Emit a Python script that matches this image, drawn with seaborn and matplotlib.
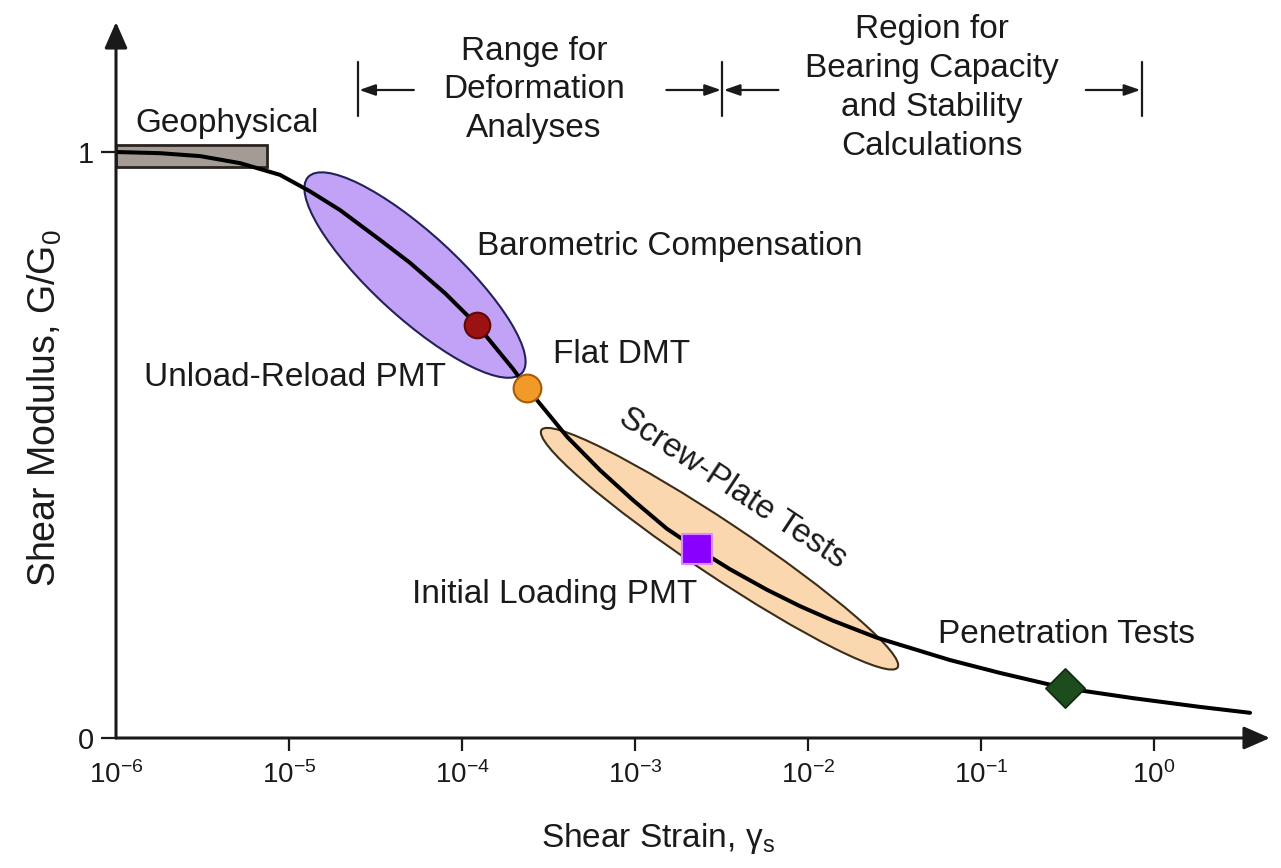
import matplotlib
matplotlib.use("Agg")
import matplotlib.pyplot as plt
import matplotlib.transforms as mtransforms
from matplotlib.patches import Ellipse, Rectangle
from matplotlib.ticker import NullLocator
import pandas as pd
import seaborn as sns

# ---- data -------------------------------------------------------------
# modulus reduction curve: G/G0 against shear strain
strain = [1.0e-6, 1.79e-6, 3.06e-6, 5.21e-6, 8.87e-6, 1.32e-5, 1.97e-5,
          3.36e-5, 5.0e-5, 7.98e-5, 1.22e-4, 1.97e-4, 2.38e-4, 4.05e-4,
          6.28e-4, 9.73e-4, 1.53e-3, 2.28e-3, 3.54e-3, 5.79e-3, 8.99e-3,
          1.40e-2, 2.51e-2, 6.62e-2, 0.129, 0.306, 0.757, 1.85, 3.59]
modulus_ratio = [1.000, 0.998, 0.993, 0.981, 0.961, 0.933, 0.901,
                 0.850, 0.811, 0.759, 0.705, 0.630, 0.597, 0.514,
                 0.457, 0.406, 0.357, 0.323, 0.288, 0.253, 0.225,
                 0.200, 0.171, 0.133, 0.111, 0.085, 0.068, 0.053, 0.043]

# in-situ tests placed on the curve
test_names = ["Unload-Reload PMT", "Flat DMT", "Initial Loading PMT", "Penetration Tests"]
test_strain = [1.22e-4, 2.38e-4, 2.28e-3, 0.306]
test_ratio = [0.705, 0.597, 0.323, 0.085]

# strain zones for the test families (centre strain, centre G/G0)
zone_names = ["Barometric Compensation", "Screw-Plate Tests"]
zone_strain = [5.35e-5, 3.08e-3]
zone_ratio = [0.790, 0.323]

# geophysical band
geo_strain = [1.0e-6, 7.5e-6]
geo_ratio = [0.974, 1.012]

# range brackets along the top
bracket_strain = [2.5e-5, 3.2e-3, 0.85]
range_labels = ["Range for\nDeformation\nAnalyses",
                "Region for\nBearing Capacity\nand Stability\nCalculations"]

# axis ticks
xtick_exponents = [-6, -5, -4, -3, -2, -1, 0]
ytick_values = [0, 1]

# ---- style ------------------------------------------------------------
sns.set_theme(style="white")
plt.rcParams["font.family"] = ["Liberation Sans", "DejaVu Sans"]
plt.rcParams["mathtext.fontset"] = "custom"
plt.rcParams["mathtext.rm"] = "Liberation Sans"
plt.rcParams["mathtext.it"] = "Liberation Sans:italic"
plt.rcParams["mathtext.bf"] = "Liberation Sans:bold"

INK = "#1a1a1a"
W, H = 1281, 868
DECADE = 173.0      # pixels per decade of strain
UNIT = 586.0        # pixels per unit of G/G0
X0, X1, Y0, Y1 = 116, 1275, 738, 10

fig = plt.figure(figsize=(W / 100, H / 100), dpi=100, facecolor="white")
ax = fig.add_axes([X0 / W, 1 - Y0 / H, (X1 - X0) / W, (Y0 - Y1) / H])
ax.set_facecolor("none")
ax.set_xscale("log")
ax.set_xlim(1e-6, 10 ** ((X1 - X0) / DECADE - 6))
ax.set_ylim(0, (Y0 - Y1) / UNIT)
for s in ax.spines.values():
    s.set_visible(False)


def fx(px):
    return px / W


def fy(py):
    return 1 - py / H


# ---- geophysical band -------------------------------------------------
ax.add_patch(Rectangle((geo_strain[0], geo_ratio[0]), geo_strain[1] - geo_strain[0],
                       geo_ratio[1] - geo_ratio[0], facecolor="#a39b94",
                       edgecolor="#2a2420", lw=2, zorder=2))


# ---- zone ellipses ----------------------------------------------------
def zone_ellipse(xc, yc, major_px, minor_px, angle, **kw):
    trans = fig.dpi_scale_trans + mtransforms.ScaledTranslation(xc, yc, ax.transData)
    ax.add_patch(Ellipse((0, 0), major_px / fig.dpi, minor_px / fig.dpi, angle=angle,
                         transform=trans, **kw))


zone_ellipse(zone_strain[0], zone_ratio[0], 290, 84, -42.5,
             facecolor="#c2a2f6", edgecolor="#23215a", lw=1.5, zorder=2)
zone_ellipse(zone_strain[1], zone_ratio[1], 428, 54, -33.7,
             facecolor="#fbd7b0", edgecolor="#3b2d18", lw=1.5, zorder=2)

# ---- curve ------------------------------------------------------------
curve = pd.DataFrame({"strain": strain, "ratio": modulus_ratio})
sns.lineplot(data=curve, x="strain", y="ratio", sort=False, estimator=None,
             color="black", lw=2.9, ax=ax, zorder=4)
ax.lines[-1].set_solid_joinstyle("round")

# ---- test markers -----------------------------------------------------
marker_style = [
    dict(marker="o", s=340, color="#9c1212", edgecolor="#5c0a0a", linewidth=1.5),
    dict(marker="o", s=400, color="#f09a2a", edgecolor="#a85a08", linewidth=1.5),
    dict(marker="s", s=460, color="#8a00ff", edgecolor="#d98cff", linewidth=1.5),
    dict(marker="D", s=400, color="#1d4d1d", edgecolor="#0e2a0e", linewidth=1.2),
]
for xs, ys, st in zip(test_strain, test_ratio, marker_style):
    sns.scatterplot(x=[xs], y=[ys], ax=ax, zorder=5, legend=False, **st)

# ---- axes arrows, ticks and labels -------------------------------------
axis_arrow = dict(arrowstyle="-|>,head_length=0.8,head_width=0.35",
                  mutation_scale=20, lw=2.2, color=INK, shrinkA=0, shrinkB=0)
ax.annotate("", xy=((1270 - X0) / (X1 - X0), 0), xycoords="axes fraction",
            xytext=(0, 0), textcoords="axes fraction", arrowprops=axis_arrow, zorder=6)
ax.annotate("", xy=(0, (Y0 - 22) / (Y0 - Y1)), xycoords="axes fraction",
            xytext=(0, 0), textcoords="axes fraction", arrowprops=axis_arrow, zorder=6)

ax.set_xticks([10.0 ** e for e in xtick_exponents])
ax.set_xticklabels([r"$\mathregular{10^{%d}}$" % e for e in xtick_exponents])
ax.xaxis.set_minor_locator(NullLocator())
ax.set_yticks(ytick_values)
ax.set_yticklabels([str(v) for v in ytick_values])
ax.tick_params(axis="x", direction="out", length=9, width=1.6, color=INK,
               pad=8, labelsize=20, labelcolor=INK, bottom=True)
ax.tick_params(axis="y", direction="out", length=11, width=1.6, color=INK,
               pad=5, labelsize=21, labelcolor=INK, left=True)
ax.xaxis.get_major_ticks()[0].tick1line.set_visible(False)
ax.set_xlabel("")
ax.set_ylabel("")

fig.text(fx(658), fy(838), r"Shear Strain, γ$_\mathregular{s}$", fontsize=24,
         color=INK, ha="center", va="center")
fig.text(fx(45), fy(408), r"Shear Modulus, G/G$_\mathregular{0}$", fontsize=27,
         color=INK, ha="center", va="center", rotation=90)

# ---- annotations ------------------------------------------------------
TXT = dict(fontsize=24, color=INK)
fig.text(fx(135), fy(132), "Geophysical", ha="left", va="baseline", **TXT)
fig.text(fx(477), fy(255), zone_names[0], ha="left", va="baseline", **TXT)
fig.text(fx(446), fy(386), test_names[0], ha="right", va="baseline", **TXT)
fig.text(fx(553), fy(363), test_names[1], ha="left", va="baseline", **TXT)
fig.text(fx(697), fy(603), test_names[2], ha="right", va="baseline", **TXT)
fig.text(fx(938), fy(643), test_names[3], ha="left", va="baseline", **TXT)
fig.text(fx(733), fy(488), zone_names[1], ha="center", va="center",
         rotation=-33.5, rotation_mode="anchor", **TXT)

fig.text(fx(534), fy(90), range_labels[0], ha="center", va="center",
         multialignment="center", linespacing=1.32, **TXT)
fig.text(fx(932), fy(88), range_labels[1], ha="center", va="center",
         multialignment="center", linespacing=1.32, **TXT)

# ---- range brackets ---------------------------------------------------
bar_lo, bar_hi = (Y0 - 116) / UNIT, (Y0 - 62) / UNIT
arrow_y = (Y0 - 90) / UNIT
for bx in bracket_strain:
    ax.plot([bx, bx], [bar_lo, bar_hi], color=INK, lw=1.6, zorder=6, clip_on=False)

head = dict(arrowstyle="-|>,head_length=0.8,head_width=0.28", mutation_scale=12,
            lw=1.6, color=INK, shrinkA=0, shrinkB=1)
for bx, dx in [(bracket_strain[0], 56), (bracket_strain[1], -56),
               (bracket_strain[1], 56), (bracket_strain[2], -56)]:
    ax.annotate("", xy=(bx, arrow_y), xytext=(dx, 0), textcoords="offset pixels",
                arrowprops=head, zorder=6)

fig.savefig("out.png", dpi=100, facecolor="white")
